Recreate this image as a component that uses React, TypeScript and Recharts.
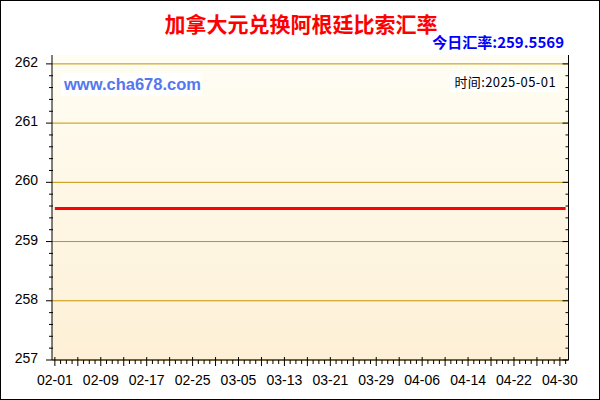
import React from "react";
import {
  LineChart,
  Line,
  XAxis,
  YAxis,
  CartesianGrid,
  ReferenceLine,
} from "recharts";

const DATES = [
  "02-01", "02-02", "02-03", "02-04", "02-05", "02-06", "02-07", "02-08", "02-09", "02-10",
  "02-11", "02-12", "02-13", "02-14", "02-15", "02-16", "02-17", "02-18", "02-19", "02-20",
  "02-21", "02-22", "02-23", "02-24", "02-25", "02-26", "02-27", "02-28",
  "03-01", "03-02", "03-03", "03-04", "03-05", "03-06", "03-07", "03-08", "03-09", "03-10",
  "03-11", "03-12", "03-13", "03-14", "03-15", "03-16", "03-17", "03-18", "03-19", "03-20",
  "03-21", "03-22", "03-23", "03-24", "03-25", "03-26", "03-27", "03-28", "03-29", "03-30",
  "03-31",
  "04-01", "04-02", "04-03", "04-04", "04-05", "04-06", "04-07", "04-08", "04-09", "04-10",
  "04-11", "04-12", "04-13", "04-14", "04-15", "04-16", "04-17", "04-18", "04-19", "04-20",
  "04-21", "04-22", "04-23", "04-24", "04-25", "04-26", "04-27", "04-28", "04-29", "04-30",
  "05-01",
];

const RATES = [
  259.5569, 259.5569, 259.5569, 259.5569, 259.5569, 259.5569, 259.5569, 259.5569, 259.5569, 259.5569,
  259.5569, 259.5569, 259.5569, 259.5569, 259.5569, 259.5569, 259.5569, 259.5569, 259.5569, 259.5569,
  259.5569, 259.5569, 259.5569, 259.5569, 259.5569, 259.5569, 259.5569, 259.5569,
  259.5569, 259.5569, 259.5569, 259.5569, 259.5569, 259.5569, 259.5569, 259.5569, 259.5569, 259.5569,
  259.5569, 259.5569, 259.5569, 259.5569, 259.5569, 259.5569, 259.5569, 259.5569, 259.5569, 259.5569,
  259.5569, 259.5569, 259.5569, 259.5569, 259.5569, 259.5569, 259.5569, 259.5569, 259.5569, 259.5569,
  259.5569,
  259.5569, 259.5569, 259.5569, 259.5569, 259.5569, 259.5569, 259.5569, 259.5569, 259.5569, 259.5569,
  259.5569, 259.5569, 259.5569, 259.5569, 259.5569, 259.5569, 259.5569, 259.5569, 259.5569, 259.5569,
  259.5569, 259.5569, 259.5569, 259.5569, 259.5569, 259.5569, 259.5569, 259.5569, 259.5569, 259.5569,
  259.5569,
];

const X_LABELS = [
  "02-01", "02-09", "02-17", "02-25", "03-05", "03-13",
  "03-21", "03-29", "04-06", "04-14", "04-22", "04-30",
];

const Y_LABELS = [257, 258, 259, 260, 261, 262];
const Y_MINOR = [
  257.2, 257.4, 257.6, 257.8, 258.2, 258.4, 258.6, 258.8, 259.2, 259.4,
  259.6, 259.8, 260.2, 260.4, 260.6, 260.8, 261.2, 261.4, 261.6, 261.8,
];
const Y_TICKS = [...Y_LABELS, ...Y_MINOR].sort((a, b) => a - b);

const TITLE = "加拿大元兑换阿根廷比索汇率";
const TODAY_RATE = "今日汇率:259.5569";
const SITE = "www.cha678.com";
const TIME = "时间:2025-05-01";

const GOLD = "#c39200";
const FONT = "'Liberation Sans', Arial, sans-serif";
const CJK = "'Noto Sans CJK SC', sans-serif";

const data = DATES.map((date, i) => ({ date, rate: RATES[i] }));

function LeftTick(props: any) {
  const { x, y, payload } = props;
  const major = Y_LABELS.includes(payload.value);
  return (
    <g>
      <line x1={major ? x - 6 : x - 3} x2={major ? x : x + 1} y1={y} y2={y} stroke="#000" />
      {major && (
        <text x={x - 14} y={y} dy={3} textAnchor="end" fontSize={14} fontFamily={FONT} fill="#000">
          {payload.value}
        </text>
      )}
    </g>
  );
}

function RightTick(props: any) {
  const { x, y, payload } = props;
  const major = Y_LABELS.includes(payload.value);
  return <line x1={major ? x - 6 : x - 3} x2={x} y1={y} y2={y} stroke="#000" />;
}

function BottomTick(props: any) {
  const { x, y, payload, index } = props;
  const major = index % 4 === 0;
  return (
    <g>
      <line x1={x} x2={x} y1={major ? y - 3 : y} y2={major ? y + 6 : y + 4} stroke="#000" />
      {X_LABELS.includes(payload.value) && (
        <text x={x} y={y + 25} textAnchor="middle" fontSize={14} fontFamily={FONT} fill="#000">
          {payload.value}
        </text>
      )}
    </g>
  );
}

function TopTick(props: any) {
  const { x, y } = props;
  return <line x1={x} x2={x} y1={y} y2={y + 3} stroke="#000" />;
}

export default function App() {
  return (
    <div style={{ position: "absolute", left: 0, top: 0, width: 600, height: 400, background: "#fff" }}>
      <LineChart width={600} height={400} data={data} margin={{ top: 55, right: 0, bottom: 0, left: 0 }}>
        <defs>
          <linearGradient id="bgGrad" x1="0" y1="0" x2="0" y2="1">
            <stop offset="0%" stopColor="#fffdf3" />
            <stop offset="100%" stopColor="#fdf0d6" />
          </linearGradient>
        </defs>
        <CartesianGrid horizontal={false} vertical={false} fill="url(#bgGrad)" fillOpacity={1} />
        {Y_LABELS.map((v) => (
          <ReferenceLine key={v} y={v} stroke={GOLD} strokeWidth={1} ifOverflow="extendDomain" />
        ))}
        <XAxis
          dataKey="date"
          scale="band"
          height={40}
          interval={0}
          tickSize={0}
          tickMargin={0}
          tickLine={false}
          axisLine={{ stroke: "#000" }}
          tick={<BottomTick />}
        />
        <XAxis
          xAxisId="top"
          dataKey="date"
          orientation="top"
          scale="band"
          height={0}
          interval={0}
          tickSize={0}
          tickMargin={0}
          tickLine={false}
          axisLine={{ stroke: "#000" }}
          tick={<TopTick />}
        />
        <YAxis
          type="number"
          domain={[257, 262.15]}
          allowDataOverflow
          ticks={Y_TICKS}
          interval={0}
          width={52}
          tickSize={0}
          tickMargin={0}
          tickLine={false}
          axisLine={{ stroke: "#000" }}
          tick={<LeftTick />}
        />
        <YAxis
          yAxisId="right"
          orientation="right"
          type="number"
          domain={[257, 262.15]}
          allowDataOverflow
          ticks={Y_TICKS}
          interval={0}
          width={31.5}
          tickSize={0}
          tickMargin={0}
          tickLine={false}
          axisLine={{ stroke: "#000" }}
          tick={<RightTick />}
        />
        <Line
          type="linear"
          dataKey="rate"
          stroke="#ff0000"
          strokeWidth={3}
          dot={false}
          isAnimationActive={false}
        />
      </LineChart>
      <svg
        width={600}
        height={400}
        style={{ position: "absolute", left: 0, top: 0, pointerEvents: "none" }}
      >
        <rect x={0.5} y={0.5} width={599} height={399} fill="none" stroke="#000" />
        <text x={301} y={32} textAnchor="middle" fontSize={21} fontWeight="bold" fontFamily={CJK} fill="#ff0000">
          {TITLE}
        </text>
        <text x={564} y={48} textAnchor="end" fontSize={15} fontWeight="bold" fontFamily={CJK} fill="#0000ff">
          {TODAY_RATE}
        </text>
        <rect x={61} y={73} width={141} height={23} fill="#fff" />
        <text x={64} y={90} fontSize={16.5} fontWeight="bold" fontFamily={FONT} fill="#5577ee">
          {SITE}
        </text>
        <rect x={450} y={73} width={108} height={19} fill="#fff" />
        <text x={556} y={87} textAnchor="end" fontSize={13} letterSpacing={0.4} fontFamily={CJK} fill="#000">
          {TIME}
        </text>
      </svg>
    </div>
  );
}
